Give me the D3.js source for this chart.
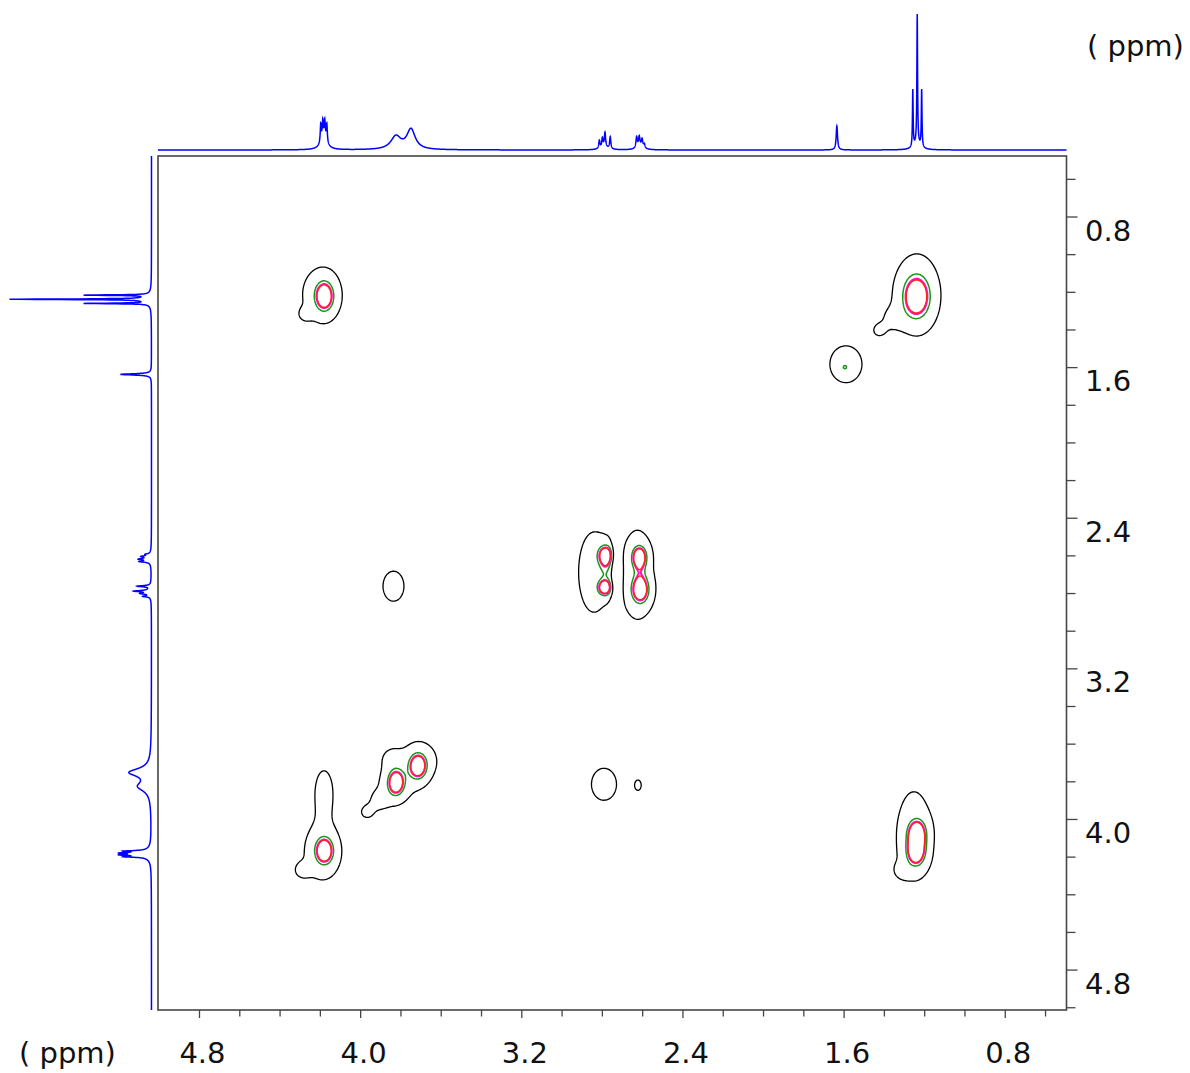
<!DOCTYPE html>
<html>
<head>
<meta charset="utf-8">
<script src="https://cdn.jsdelivr.net/npm/d3@7"></script>
<style>
  body { margin: 0; background: #fff; }
  svg { display: block; }
  text { font-family: "DejaVu Sans", Verdana, sans-serif; fill: #111; }
</style>
</head>
<body>
<svg id="chart" width="1190" height="1073"></svg>
<script>
// ---- Axis ticks (ppm) ----
const f2Ticks = [4.8, 4.6, 4.4, 4.2, 4.0, 3.8, 3.6, 3.4, 3.2, 3.0, 2.8, 2.6, 2.4, 2.2, 2.0, 1.8, 1.6, 1.4, 1.2, 1.0, 0.8, 0.6];
const f1Ticks = [0.6, 0.8, 1.0, 1.2, 1.4, 1.6, 1.8, 2.0, 2.2, 2.4, 2.6, 2.8, 3.0, 3.2, 3.4, 3.6, 3.8, 4.0, 4.2, 4.4, 4.6, 4.8, 5.0];
const labelTicks = [4.8, 4.0, 3.2, 2.4, 1.6, 0.8];
const unitLabel = "( ppm)";

// ---- 1D projection lines: position (ppm), half-width (ppm), heights ----
const lineppm    = [4.198, 4.188, 4.178, 4.168, 4.183, 3.825, 3.750, 2.815, 2.800, 2.787, 2.761, 2.790, 2.630, 2.617, 2.603, 2.592, 2.612, 1.636, 1.259, 1.237, 1.215, 1.237];
const lineWidth  = [0.003, 0.003, 0.003, 0.003, 0.018, 0.030, 0.025, 0.0035, 0.0035, 0.0035, 0.0035, 0.02, 0.004, 0.004, 0.004, 0.004, 0.02, 0.004, 0.002, 0.002, 0.002, 0.02];
const topHeight  = [18, 17, 17, 18, 12, 13, 20, 8, 9, 14, 12, 3, 11, 10, 8, 4, 3, 24, 57, 129, 57, 6];
const sideHeight = [19, 18, 18, 19, 13, 12, 21, 7, 8, 14, 13, 3, 10, 9, 7, 4, 3, 31, 64, 135, 64, 6];

// ---- 2D cross-peak components: F2 / F1 centre (ppm), F2 / F1 widths (ppm), height ----
const peakF2  = [4.180, 4.197, 4.276,  1.241, 1.238, 1.357, 1.427,  1.591, 1.596,  3.837,
                 2.782, 2.786, 2.842, 2.616, 2.611, 2.628, 2.732, 2.784, 2.612,  2.792, 2.623,
                 3.825, 3.715, 3.815, 3.705, 3.904, 3.969, 3.844,  4.180, 4.192, 4.291, 4.182,
                 1.238, 1.243, 1.253, 1.313];
const peakF1  = [1.221, 1.2105, 1.317,  1.224, 1.200, 1.338, 1.402,  1.582, 1.598,  2.761,
                 2.597, 2.769, 2.687, 2.607, 2.780, 2.697, 2.687, 2.683, 2.692,  3.813, 3.818,
                 3.805, 3.717, 3.802, 3.685, 3.898, 3.961, 3.675,  4.166, 4.174, 4.269, 3.855,
                 4.073, 4.174, 4.078, 4.269];
const peakW2  = [0.034, 0.0745, 0.025,  0.050, 0.076, 0.045, 0.030,  0.0675, 0.015,  0.0536,
                 0.030, 0.027, 0.0645, 0.027, 0.032, 0.060, 0.015, 0.025, 0.025,  0.064, 0.017,
                 0.030, 0.032, 0.0695, 0.0695, 0.040, 0.030, 0.040,  0.033, 0.0695, 0.030, 0.044,
                 0.033, 0.033, 0.0695, 0.030];
const peakW1  = [0.058, 0.106, 0.027,  0.085, 0.149, 0.048, 0.032,  0.083, 0.016,  0.0823,
                 0.0425, 0.032, 0.180, 0.045, 0.053, 0.191, 0.16, 0.037, 0.037,  0.0876, 0.029,
                 0.050, 0.050, 0.0743, 0.0743, 0.0425, 0.032, 0.0425,  0.052, 0.117, 0.032, 0.117,
                 0.053, 0.053, 0.191, 0.032];
const peakAmp = [8, 2, 1.2,  8, 2, 1.3, 1.3,  2, 3.0,  1.6,
                 8, 8, 2, 8, 8, 2, -6, 2.2, 0.8,  1.6, 1.5,
                 8, 8, 1.8, 1.8, 1.5, 1.4, 1.4,  8, 2, 1.4, 1.6,
                 8, 8, 2, 1.3];

// Contour levels and their colours
const levels      = [1, 4.5, 6, 6.4];
const levelColors = ["#000000", "#1a961a", "#ff14b4", "#ff2020"];
const levelWidths = [1.3, 1.5, 2.0, 1.3];

// ---- Layout ----
const X0 = 158, X1 = 1066.5, Y0 = 156, Y1 = 1010;
const x = d3.scaleLinear().domain([5.006, 0.496]).range([X0, X1]);
const y = d3.scaleLinear().domain([0.476, 5.012]).range([Y0, Y1]);
const topI = d3.scaleLinear().domain([0, 140]).range([150, 10]);
const sideI = d3.scaleLinear().domain([0, 140]).range([151.5, 11.5]);

const svg = d3.select("#chart");
const frameColor = "#454545";

// ---- 2D contour map ----
const step = 1.25;
const nx = Math.ceil((X1 - X0) / step), ny = Math.ceil((Y1 - Y0) / step);
const grid = new Float64Array(nx * ny);
peakAmp.forEach((a, k) => {
  const cx = x(peakF2[k]), cy = y(peakF1[k]);
  const sx = Math.abs(x(peakF2[k] + peakW2[k]) - cx);
  const sy = Math.abs(y(peakF1[k] + peakW1[k]) - cy);
  const i0 = Math.max(0, Math.floor((cx - 5 * sx - X0) / step)), i1 = Math.min(nx - 1, Math.ceil((cx + 5 * sx - X0) / step));
  const j0 = Math.max(0, Math.floor((cy - 5 * sy - Y0) / step)), j1 = Math.min(ny - 1, Math.ceil((cy + 5 * sy - Y0) / step));
  for (let j = j0; j <= j1; j++) {
    const py = Y0 + (j + 0.5) * step, dy = (py - cy) / sy;
    for (let i = i0; i <= i1; i++) {
      const px = X0 + (i + 0.5) * step, dx = (px - cx) / sx;
      grid[j * nx + i] += a * Math.exp(-0.5 * (dx * dx + dy * dy));
    }
  }
});

const contours = d3.contours().size([nx, ny]).thresholds(levels)(grid);
const path = d3.geoPath(d3.geoIdentity().scale(step).translate([X0, Y0]));

svg.append("defs").append("clipPath").attr("id", "plotClip")
  .append("rect").attr("x", X0).attr("y", Y0).attr("width", X1 - X0).attr("height", Y1 - Y0);

svg.append("g").attr("clip-path", "url(#plotClip)")
  .selectAll("path").data(contours).join("path")
  .attr("d", path)
  .attr("fill", "none")
  .attr("stroke", (d, i) => levelColors[i])
  .attr("stroke-width", (d, i) => levelWidths[i])
  .attr("stroke-linejoin", "round");

// ---- Frame and axes ----
svg.append("rect").attr("x", X0).attr("y", Y0).attr("width", X1 - X0).attr("height", Y1 - Y0)
  .attr("fill", "none").attr("stroke", frameColor).attr("stroke-width", 1.6);

const isMajor = v => labelTicks.some(t => Math.abs(t - v) < 1e-6);

svg.append("g").selectAll("line").data(f2Ticks).join("line")
  .attr("x1", d => x(d)).attr("x2", d => x(d))
  .attr("y1", Y1).attr("y2", d => Y1 + (isMajor(d) ? 8 : 6.5))
  .attr("stroke", frameColor).attr("stroke-width", 1.3);

svg.append("g").selectAll("line").data(f1Ticks).join("line")
  .attr("y1", d => y(d)).attr("y2", d => y(d))
  .attr("x1", X1).attr("x2", d => X1 + (isMajor(d) ? 11 : 9))
  .attr("stroke", frameColor).attr("stroke-width", 1.3);

svg.append("g").selectAll("text").data(labelTicks).join("text")
  .attr("x", d => x(d) + 3).attr("y", 1063)
  .attr("text-anchor", "middle").attr("font-size", 29)
  .text(d => d.toFixed(1));

svg.append("g").selectAll("text").data(labelTicks).join("text")
  .attr("x", 1085).attr("y", d => y(d) + 23.5)
  .attr("font-size", 29)
  .text(d => d.toFixed(1));

svg.append("text").attr("x", 19).attr("y", 1063).attr("font-size", 29).text(unitLabel);
svg.append("text").attr("x", 1087).attr("y", 56).attr("font-size", 29).text(unitLabel);

// ---- 1D projections ----
function spectrum(ppm, heights) {
  let s = 0;
  for (let k = 0; k < lineppm.length; k++) {
    const u = (ppm - lineppm[k]) / lineWidth[k];
    s += heights[k] / (1 + u * u);
  }
  return s;
}
function samples(a, b) {
  const pts = [];
  const n = Math.round(Math.abs(b - a) / 0.0005);
  for (let i = 0; i <= n; i++) pts.push(a + (b - a) * i / n);
  lineppm.forEach(p => { if (p < Math.max(a, b) && p > Math.min(a, b)) pts.push(p); });
  return pts.sort((p, q) => q - p);
}

const topPts = samples(5.006, 0.496).map(p => [x(p), topI(spectrum(p, topHeight))]);
svg.append("path").attr("d", d3.line()(topPts))
  .attr("fill", "none").attr("stroke", "#0000ff").attr("stroke-width", 1.5);

const sidePts = samples(0.476, 5.012).map(p => [sideI(spectrum(p, sideHeight)), y(p)]);
svg.append("path").attr("d", d3.line()(sidePts))
  .attr("fill", "none").attr("stroke", "#0000ff").attr("stroke-width", 1.5);
</script>
</body>
</html>
